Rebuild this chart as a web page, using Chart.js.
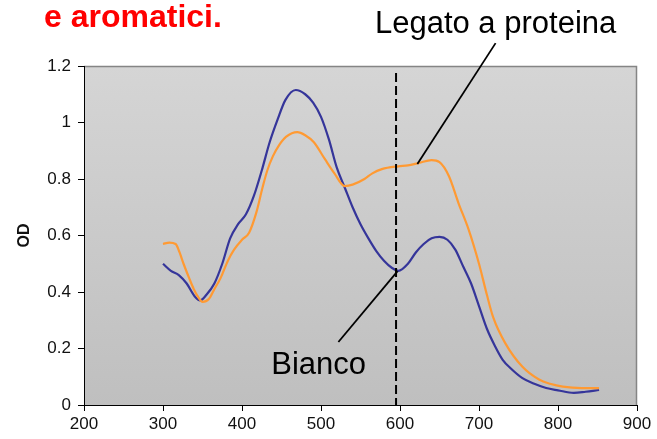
<!DOCTYPE html>
<html><head><meta charset="utf-8">
<script src="https://cdn.jsdelivr.net/npm/chart.js@4"></script>
<style>html,body{margin:0;padding:0;background:#fff;} #wrap{width:657px;height:439px;position:relative;}</style>
</head><body><div id="wrap"><canvas id="c" width="657" height="439"></canvas></div>
<script>
// ---- data ----
const wavelengthBianco = [300,310,320,330,340,347,355,365,375,385,395,405,415,425,435,445,455,468,480,490,500,510,520,530,540,550,560,570,580,590,598,610,620,630,640,650,660,670,680,690,700,710,720,730,740,755,770,785,800,820,835,852];
const odBianco = [0.50,0.475,0.46,0.43,0.385,0.37,0.39,0.43,0.50,0.59,0.64,0.675,0.74,0.83,0.93,1.01,1.08,1.115,1.10,1.07,1.02,0.94,0.84,0.77,0.70,0.64,0.59,0.545,0.51,0.485,0.475,0.50,0.54,0.57,0.59,0.595,0.585,0.55,0.49,0.43,0.35,0.27,0.21,0.16,0.13,0.095,0.075,0.06,0.052,0.043,0.047,0.053];
const wavelengthLegato = [300,308,316,321,326,333,339,345,350,358,365,373,382,390,400,409,418,426,432,439,447,456,470,480,491,505,517,530,540,555,565,577,598,610,624,640,650,662,674,687,700,710,718,733,755,776,790,806,830,852];
const odLegato = [0.57,0.575,0.57,0.54,0.50,0.45,0.41,0.38,0.365,0.375,0.41,0.45,0.51,0.55,0.585,0.61,0.68,0.77,0.83,0.88,0.92,0.95,0.966,0.955,0.93,0.87,0.82,0.775,0.78,0.80,0.82,0.835,0.845,0.848,0.857,0.867,0.86,0.81,0.715,0.62,0.50,0.39,0.31,0.22,0.135,0.09,0.075,0.065,0.06,0.06];
const seriesNames = ['Bianco','Legato a proteina'];
const xRange = [200, 900];
const yRange = [0, 1.2];
const xStep = 100;
const yStep = 0.2;
const markerWavelength = 595;
const titleText = 'e aromatici.';
const yAxisTitle = 'OD';
// annotation anchors in data units: [labelX, labelY, lineFromX, lineFromY, lineToX, lineToY]
const annoLegato = [721, 1.317, 721, 1.281, 622, 0.853];
const annoBianco = [497, 0.110, 522, 0.223, 597, 0.474];

const FONT = "'Liberation Sans', Arial, sans-serif";

const bgPlugin = {
  id: 'bg',
  beforeDraw(chart) {
    const { ctx, chartArea: a } = chart;
    const g = ctx.createLinearGradient(0, a.top, 0, a.bottom);
    g.addColorStop(0, '#d5d5d5');
    g.addColorStop(1, '#bfbfbf');
    ctx.save();
    ctx.fillStyle = g;
    ctx.fillRect(a.left, a.top, a.right - a.left, a.bottom - a.top);
    ctx.strokeStyle = '#858585';
    ctx.lineWidth = 1.5;
    ctx.beginPath();
    ctx.moveTo(a.left, a.top + 0.5);
    ctx.lineTo(a.right - 0.5, a.top + 0.5);
    ctx.lineTo(a.right - 0.5, a.bottom);
    ctx.stroke();
    ctx.restore();
  }
};

const annoPlugin = {
  id: 'anno',
  afterDraw(chart) {
    const { ctx, scales: { x, y } } = chart;
    ctx.save();
    // dashed marker line
    ctx.strokeStyle = '#000';
    ctx.lineWidth = 2;
    ctx.setLineDash([9, 4]);
    ctx.beginPath();
    ctx.moveTo(x.getPixelForValue(markerWavelength), y.getPixelForValue(1.175));
    ctx.lineTo(x.getPixelForValue(markerWavelength), y.getPixelForValue(0));
    ctx.stroke();
    ctx.setLineDash([]);
    // annotation leader lines
    ctx.lineWidth = 1.8;
    [annoLegato, annoBianco].forEach(a => {
      ctx.beginPath();
      ctx.moveTo(x.getPixelForValue(a[2]), y.getPixelForValue(a[3]));
      ctx.lineTo(x.getPixelForValue(a[4]), y.getPixelForValue(a[5]));
      ctx.stroke();
    });
    // annotation texts
    ctx.fillStyle = '#000';
    ctx.font = '31px ' + FONT;
    ctx.textAlign = 'center';
    ctx.textBaseline = 'alphabetic';
    ctx.fillText(seriesNames[1], x.getPixelForValue(annoLegato[0]), y.getPixelForValue(annoLegato[1]));
    ctx.fillText(seriesNames[0], x.getPixelForValue(annoBianco[0]), y.getPixelForValue(annoBianco[1]));
    // page title (cut heading)
    ctx.fillStyle = '#ff0000';
    ctx.font = 'bold 32px ' + FONT;
    ctx.textAlign = 'left';
    ctx.fillText(titleText, 44, 27);
    ctx.restore();
  }
};

const toPoints = (xs, ys) => xs.map((v, i) => ({ x: v, y: ys[i] }));

new Chart(document.getElementById('c'), {
  type: 'line',
  data: {
    datasets: [
      { label: seriesNames[1], data: toPoints(wavelengthLegato, odLegato), borderColor: '#ff9a33', borderWidth: 2.2, pointRadius: 0, cubicInterpolationMode: 'monotone', fill: false },
      { label: seriesNames[0], data: toPoints(wavelengthBianco, odBianco), borderColor: '#35359a', borderWidth: 2.2, pointRadius: 0, cubicInterpolationMode: 'monotone', fill: false }
    ]
  },
  options: {
    responsive: false,
    animation: false,
    devicePixelRatio: 1,
    layout: { padding: { top: 66, right: 20, left: 0, bottom: 0 } },
    plugins: { legend: { display: false }, tooltip: { enabled: false } },
    scales: {
      x: {
        type: 'linear', min: xRange[0], max: xRange[1],
        ticks: { stepSize: xStep, color: '#111', font: { family: FONT, size: 17 }, padding: 3, maxRotation: 0 },
        grid: { drawOnChartArea: false, drawTicks: true, tickLength: 6, color: '#000' },
        border: { display: true, color: '#000', width: 1 },
        afterFit(s) { s.height = 34; }
      },
      y: {
        min: yRange[0], max: yRange[1],
        ticks: { stepSize: yStep, color: '#111', font: { family: FONT, size: 17 }, padding: 7,
                 callback: v => String(Math.round(v * 10) / 10) },
        grid: { drawOnChartArea: false, drawTicks: true, tickLength: 6, color: '#000' },
        border: { display: true, color: '#000', width: 1 },
        title: { display: true, text: yAxisTitle, color: '#111', font: { family: FONT, size: 16, weight: 'bold' }, padding: { top: 15, bottom: 0 } },
        afterFit(s) { s.width = 84; }
      }
    }
  },
  plugins: [bgPlugin, annoPlugin]
});
</script>
</body></html>
